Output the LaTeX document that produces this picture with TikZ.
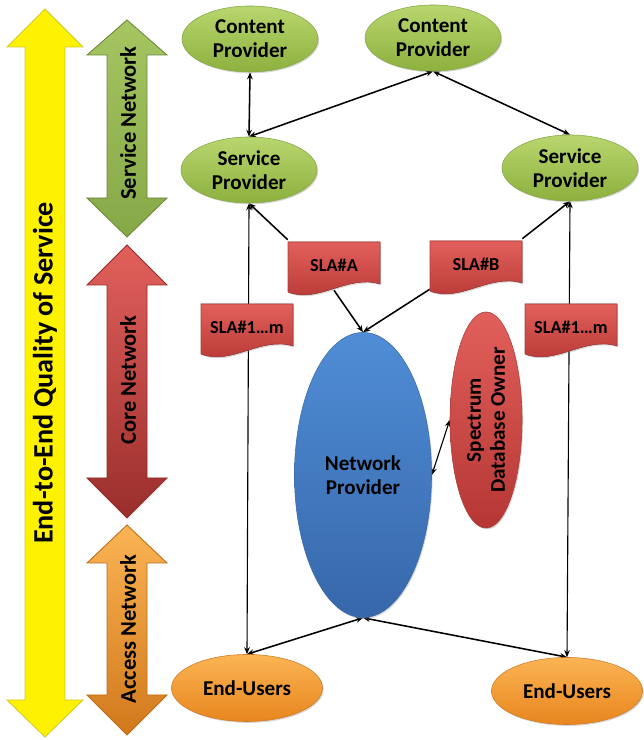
\documentclass[tikz,border=0pt]{standalone}
\usepackage{fontspec}
\setmainfont{Carlito}
\usetikzlibrary{arrows.meta,shapes.geometric,shadows,backgrounds}

\definecolor{greenTop}{HTML}{B8D66E}
\definecolor{greenBot}{HTML}{8DB03E}
\definecolor{greenLine}{HTML}{86A84A}
\definecolor{bandGreenTop}{HTML}{A6C563}
\definecolor{bandGreenBot}{HTML}{86A846}
\definecolor{redTop}{HTML}{E2605C}
\definecolor{redBot}{HTML}{B53633}
\definecolor{redLine}{HTML}{A8403D}
\definecolor{blueTop}{HTML}{4F8DD6}
\definecolor{blueBot}{HTML}{3767AA}
\definecolor{blueLine}{HTML}{3D6CA8}
\definecolor{orangeTop}{HTML}{FBB454}
\definecolor{orangeBot}{HTML}{E8861E}
\definecolor{orangeLine}{HTML}{D07A24}

\tikzset{
  boldtext/.style={font=\bfseries\fontsize{15}{17}\selectfont},
  blob/.style={ellipse,inner sep=0pt,align=center,boldtext,
    drop shadow={opacity=0.3,shadow xshift=0.8pt,shadow yshift=-1pt}},
  prov/.style={blob,draw=greenLine,top color=greenTop,bottom color=greenBot,
    minimum width=3.4cm,minimum height=1.65cm},
  users/.style={blob,draw=orangeLine,top color=orangeTop,bottom color=orangeBot,
    minimum width=3.775cm,minimum height=1.675cm},
  slafill/.style={draw=redLine,top color=redTop,bottom color=redBot,
    drop shadow={opacity=0.3,shadow xshift=0.8pt,shadow yshift=-1pt}},
  sla/.style={inner sep=0pt,minimum width=2.3cm,minimum height=1.25cm,
    font=\bfseries\fontsize{13}{15}\selectfont},
  band/.style={draw=#1!80!black,line width=0.6pt},
  bandtext/.style={rotate=90,font=\bfseries\fontsize{16}{18}\selectfont},
  link/.style={<->,line width=1.1pt},
  thinlink/.style={<->,line width=0.8pt}
}

\newcommand{\slabox}[4]{%
  \fill[slafill] (#2-46,#3-25) -- (#2-46,#3+25) -- (#2+46,#3+25) -- (#2+46,#3-17)
    .. controls (#2+14,#3-7) and (#2-16,#3-37) .. (#2-46,#3-25) -- cycle;
  \node[sla] (#1) at (#2,#3+2) {#4};}

\begin{document}
\begin{tikzpicture}[x=0.025cm,y=0.025cm,>={Stealth[length=5pt,width=4pt]}]
\useasboundingbox (0,0) rectangle (643,740);
\draw[band=yellow,fill=yellow] (45,731) -- (83,693) -- (65,693) -- (65,40) -- (83,40) -- (45,3)
  -- (7,40) -- (25,40) -- (25,693) -- (7,693) -- cycle;
\draw[band=bandGreenBot,top color=bandGreenTop,bottom color=bandGreenBot] (127,720) -- (167,685) -- (147,685) -- (147,542)
  -- (167,542) -- (127,503) -- (87,542) -- (107,542) -- (107,685) -- (87,685) -- cycle;
\draw[band=redBot,top color=redTop,bottom color=redBot!85!black] (127,495) -- (167,455) -- (147,455) -- (147,262)
  -- (167,262) -- (127,222) -- (87,262) -- (107,262) -- (107,455) -- (87,455) -- cycle;
\draw[band=orangeBot,top color=orangeTop,bottom color=orangeBot!90!black] (127,215) -- (167,177) -- (147,177) -- (147,45)
  -- (167,45) -- (127,5) -- (87,45) -- (107,45) -- (107,177) -- (87,177) -- cycle;
\node[bandtext,font=\bfseries\fontsize{20}{22}\selectfont] (qos) at (45,367) {End-to-End Quality of Service};
\node[bandtext] (servnet) at (128,617) {Service Network};
\node[bandtext] (corenet) at (128,360) {Core Network};
\node[bandtext] (accnet) at (128,111) {Access Network};

\node[prov] (cp1) at (250,701) {Content\\Provider};
\node[prov] (cp2) at (433,702) {Content\\Provider};
\node[prov] (sp1) at (249,570) {Service\\Provider};
\node[prov] (sp2) at (570,572) {Service\\Provider};
\slabox{slaA}{334}{473}{SLA\#A}
\slabox{slaB}{476}{474}{SLA\#B}
\slabox{slaL}{247}{411}{SLA\#1…m}
\slabox{slaR}{571}{411}{SLA\#1…m}
\node[blob,draw=blueLine,top color=blueTop,bottom color=blueBot,
  minimum width=3.425cm,minimum height=7.125cm] (np) at (363,265) {Network\\Provider};
\node[blob,rotate=90,draw=redLine,top color=redTop,bottom color=redBot,
  minimum width=5.4cm,minimum height=1.8cm] (sdo) at (486,320) {Spectrum\\Database Owner};
\node[users] (eu1) at (247,52) {End-Users};
\node[users] (eu2) at (567,49) {End-Users};

\begin{scope}[on background layer]
\draw[link] (cp1.south) -- (sp1.north);
\draw[link] (cp2.south) -- (sp1.north);
\draw[link] (cp2.south) -- (sp2.north);
\draw[->,line width=1.1pt] (slaA.north west) -- (sp1.south);
\draw[->,line width=1.1pt] (slaB.north east) -- (sp2.south);
\draw[->,line width=1.1pt] (slaA.south) -- (np.north);
\draw[->,line width=1.1pt] (slaB.south west) -- (np.north);
\draw[thinlink] (sp1.south) -- (eu1.north);
\draw[thinlink] (sp2.south) -- (eu2.north);
\draw[link] (np.south) -- (eu1.north);
\draw[link] (np.south) -- (eu2.north);
\draw[thinlink] (np.east) -- (sdo.north);
\end{scope}
\end{tikzpicture}
\end{document}
